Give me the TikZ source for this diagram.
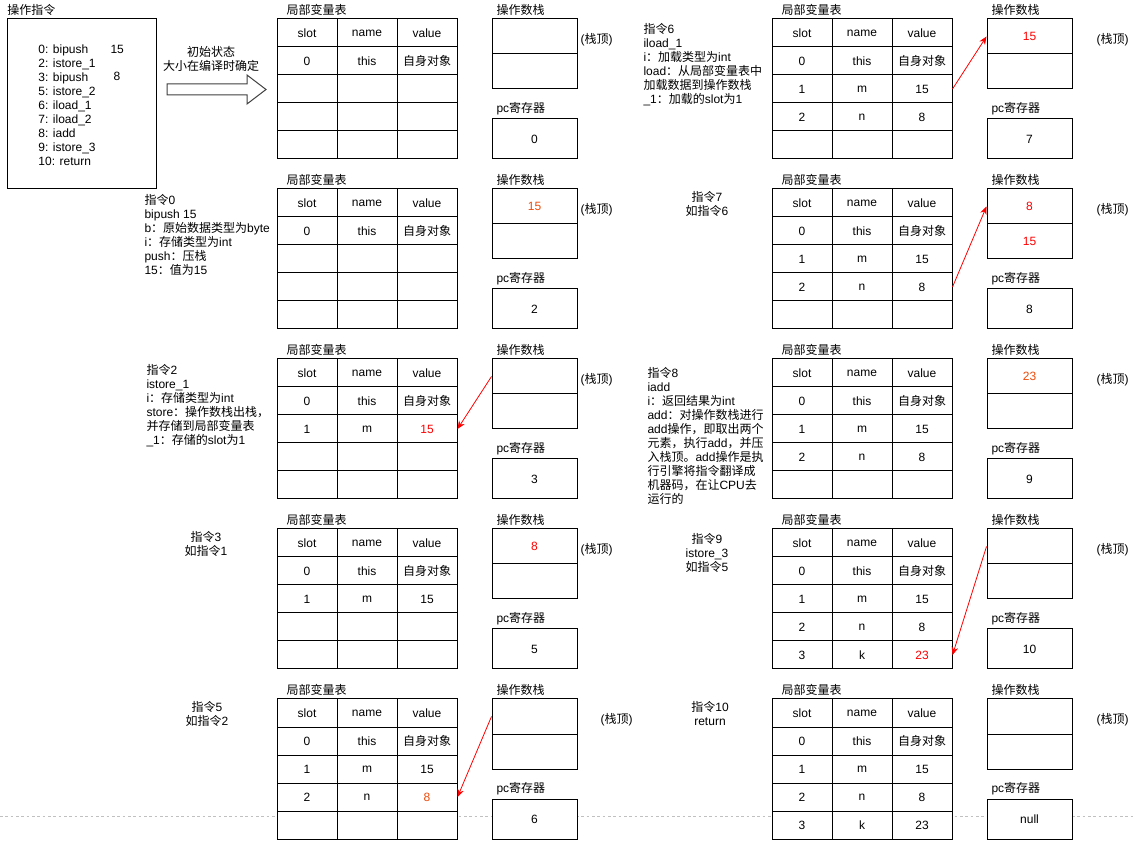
\documentclass[tikz,border=0pt]{standalone}
\usepackage{fontspec}
\setmainfont{Liberation Sans}
\newfontfamily\cjk{Noto Sans CJK SC}
\newcommand{\zh}[1]{{\cjk #1}}
\definecolor{valred}{HTML}{FF0000}
\definecolor{valorange}{HTML}{EE4B0B}
\definecolor{pagebreak}{HTML}{C0C0C0}
\usetikzlibrary{arrows.meta}

% one frame: local variable table, operand stack, pc register
\newcommand{\lvpanel}[5]{%
  \begin{scope}[shift={(#2,#3)}]
    \node[lbl] (#1-lt) at (286,10) {\zh{局部变量表}};
    \foreach \ri in {0,...,4}
      \foreach \ci in {0,1,2}
        \node[cell] (#1-\ri-\ci) at ({307+60*\ci},{33+28*\ri}) {};
    \node (#1-h0) at (#1-0-0) {slot};
    \node (#1-h1) at (#1-0-1) {name};
    \node (#1-h2) at (#1-0-2) {value};
    \node[lbl] (#1-st) at (496,10) {\zh{操作数栈}};
    \node[stackcell] (#1-s0) at (534.5,36.5) {};
    \node[stackcell] (#1-s1) at (534.5,71.5) {};
    \node[lbl] (#1-top) at (#4,40) {(\zh{栈顶})};
    \node[lbl] (#1-pl) at (496,109) {pc\zh{寄存器}};
    \node[pcbox] (#1-pc) at (534.5,139) {#5};
  \end{scope}}
% one filled row of the local variable table
\newcommand{\lvrow}[5]{%
  \node (#1-#2-0t) at (#1-#2-0) {#3};
  \node (#1-#2-1t) at (#1-#2-1) {#4};
  \node (#1-#2-2t) at (#1-#2-2) {#5};}

\begin{document}
\begin{tikzpicture}[
    x=0.75pt, y=-0.75pt,
    font=\fontsize{9}{10.5}\selectfont,
    line width=0.75pt,
    cell/.style={rectangle, draw, fill=white, minimum width=45pt,
                 minimum height=21pt, inner sep=0pt},
    stackcell/.style={rectangle, draw, fill=white, minimum width=63.75pt,
                      minimum height=26.25pt, inner sep=0pt},
    pcbox/.style={rectangle, draw, fill=white, minimum width=63.75pt,
                  minimum height=30pt, inner sep=0pt},
    lbl/.style={anchor=west, inner sep=0pt},
    note/.style={align=left, anchor=north west, inner sep=0pt},
    cnote/.style={align=center, anchor=north, inner sep=0pt},
    push/.style={-{Stealth[length=6pt,width=5pt]}, valred, line width=0.6pt},
  ]
  \path[fill=white] (0,0) rectangle (1133,848);
  \useasboundingbox (0,0) rectangle (1133,848);

  % page break line
  \coordinate (pb-l) at (0,816);
  \coordinate (pb-r) at (1133,816);
  \draw[pagebreak, dash pattern=on 2pt off 2pt, line width=0.6pt] (pb-l) -- (pb-r);

  % bytecode listing
  \node[lbl] (ops-l) at (7,10) {\zh{操作指令}};
  \node[rectangle, draw, minimum width=111.75pt, minimum height=127.5pt] (ops) at (81.5,104) {};
  \node[note] (ops-list) at (38,44) {0: bipush\\2: istore\_1\\3: bipush\\5: istore\_2\\
    6: iload\_1\\7: iload\_2\\8: iadd\\9: istore\_3\\10: return};
  \node[lbl] (ops-15) at (110,49) {15};
  \node[lbl] (ops-8) at (113,76) {8};

  \node (init-t1) at (211,52) {\zh{初始状态}};
  \node (init-t2) at (211,66) {\zh{大小在编译时确定}};
  \draw[draw=black!75, fill=white, line width=0.75pt]
    (167,84) -- (247,84) -- (247,75) -- (266,89.5) -- (247,104) -- (247,95) -- (167,95) -- cycle;

  % frames, left column
  \lvpanel{init}{0}{0}{580}{0}
  \lvrow{init}{1}{0}{this}{\zh{自身对象}}

  \lvpanel{i0}{0}{170}{580}{2}
  \lvrow{i0}{1}{0}{this}{\zh{自身对象}}
  \node (i0-s0t) at (i0-s0) {\color{valorange}15};

  \lvpanel{i2}{0}{340}{580}{3}
  \lvrow{i2}{1}{0}{this}{\zh{自身对象}}
  \lvrow{i2}{2}{1}{m}{\color{valred}15}

  \lvpanel{i3}{0}{510}{580}{5}
  \lvrow{i3}{1}{0}{this}{\zh{自身对象}}
  \lvrow{i3}{2}{1}{m}{15}
  \node (i3-s0t) at (i3-s0) {\color{valred}8};

  \lvpanel{i5}{0}{680}{600}{6}
  \lvrow{i5}{1}{0}{this}{\zh{自身对象}}
  \lvrow{i5}{2}{1}{m}{15}
  \lvrow{i5}{3}{2}{n}{\color{valorange}8}

  % frames, right column
  \lvpanel{i6}{495}{0}{601}{7}
  \lvrow{i6}{1}{0}{this}{\zh{自身对象}}
  \lvrow{i6}{2}{1}{m}{15}
  \lvrow{i6}{3}{2}{n}{8}
  \node (i6-s0t) at (i6-s0) {\color{valred}15};

  \lvpanel{i7}{495}{170}{601}{8}
  \lvrow{i7}{1}{0}{this}{\zh{自身对象}}
  \lvrow{i7}{2}{1}{m}{15}
  \lvrow{i7}{3}{2}{n}{8}
  \node (i7-s0t) at (i7-s0) {\color{valred}8};
  \node (i7-s1t) at (i7-s1) {\color{valred}15};

  \lvpanel{i8}{495}{340}{601}{9}
  \lvrow{i8}{1}{0}{this}{\zh{自身对象}}
  \lvrow{i8}{2}{1}{m}{15}
  \lvrow{i8}{3}{2}{n}{8}
  \node (i8-s0t) at (i8-s0) {\color{valorange}23};

  \lvpanel{i9}{495}{510}{601}{10}
  \lvrow{i9}{1}{0}{this}{\zh{自身对象}}
  \lvrow{i9}{2}{1}{m}{15}
  \lvrow{i9}{3}{2}{n}{8}
  \lvrow{i9}{4}{3}{k}{\color{valred}23}

  \lvpanel{i10}{495}{680}{601}{null}
  \lvrow{i10}{1}{0}{this}{\zh{自身对象}}
  \lvrow{i10}{2}{1}{m}{15}
  \lvrow{i10}{3}{2}{n}{8}
  \lvrow{i10}{4}{3}{k}{23}

  % instruction notes
  \node[note] (d0) at (144,194) {\zh{指令}0\\bipush 15\\b\zh{：原始数据类型为}byte\\
    i\zh{：存储类型为}int\\push\zh{：压栈}\\15\zh{：值为}15};
  \node[note] (d2) at (146,364) {\zh{指令}2\\istore\_1\\i\zh{：存储类型为}int\\
    store\zh{：操作数栈出栈，}\\\zh{并存储到局部变量表}\\\_1\zh{：存储的}slot\zh{为}1};
  \node[cnote] (d3) at (206,531) {\zh{指令}3\\\zh{如指令}1};
  \node[cnote] (d5) at (207,701) {\zh{指令}5\\\zh{如指令}2};
  \node[note] (d6) at (643,23) {\zh{指令}6\\iload\_1\\i\zh{：加载类型为}int\\
    load\zh{：从局部变量表中}\\\zh{加载数据到操作数栈}\\\_1\zh{：加载的}slot\zh{为}1};
  \node[cnote] (d7) at (707,191) {\zh{指令}7\\\zh{如指令}6};
  \node[note] (d8) at (647,367) {\zh{指令}8\\iadd\\i\zh{：返回结果为}int\\
    add\zh{：对操作数栈进行}\\add\zh{操作，即取出两个}\\\zh{元素，执行}add\zh{，并压}\\
    \zh{入栈顶。}add\zh{操作是执}\\\zh{行引擎将指令翻译成}\\\zh{机器码，在让}CPU\zh{去}\\
    \zh{运行的}};
  \node[cnote] (d9) at (707,533) {\zh{指令}9\\istore\_3\\\zh{如指令}5};
  \node[cnote] (d10) at (710,701) {\zh{指令}10\\return};

  % data movement
  \draw[push] (i2-s0.west) -- (i2-2-2.east);
  \draw[push] (i5-s0.west) -- (i5-3-2.east);
  \draw[push] (i6-2-2.east) -- (i6-s0.west);
  \draw[push] (i7-3-2.east) -- (i7-s0.west);
  \draw[push] (i9-s0.west) -- (i9-4-2.east);
\end{tikzpicture}
\end{document}
